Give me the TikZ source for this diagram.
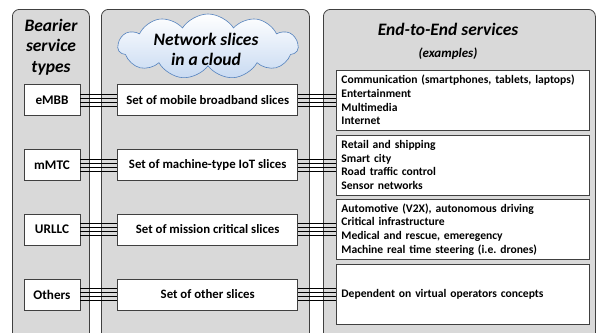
\documentclass[tikz,border=0pt]{standalone}
\usepackage{fontspec}
\setmainfont{Carlito}
\usepackage{tikz}
\usetikzlibrary{positioning,shapes.symbols}
\definecolor{panelgray}{RGB}{217,217,217}
\definecolor{edgegray}{RGB}{64,64,64}
\definecolor{cloudblue}{RGB}{84,130,190}
\definecolor{cloudfill}{RGB}{200,218,242}
\frenchspacing
\tikzset{
	panel/.style={draw=edgegray, fill=panelgray, line width=0.8pt, rounded corners=7pt, anchor=north west, inner sep=0pt},
	typebox/.style={draw=edgegray, fill=white, line width=0.7pt, minimum width=56pt, minimum height=31pt, inner sep=0pt, font=\bfseries\fontsize{13.2}{15}\selectfont},
	slicebox/.style={typebox, minimum width=180pt, font=\bfseries\fontsize{12.8}{15}\selectfont},
	usebox/.style={draw=edgegray, fill=white, line width=0.7pt, minimum width=253pt, minimum height=60pt, inner sep=0pt, text width=243pt, align=left, font=\bfseries\fontsize{11.6}{13.8}\selectfont},
	heading/.style={font=\bfseries\itshape\fontsize{17.5}{20.5}\selectfont, align=center},
	wire/.style={line width=0.6pt, black}
}
\begin{document}
\begin{tikzpicture}[x=1pt,y=-1pt]
		\useasboundingbox (0,0) rectangle (596,332);
		\clip (0,0) rectangle (596,332);
		\node[panel, minimum width=77pt, minimum height=340pt] (typecol) at (12,9) {};
		\node[panel, minimum width=208pt, minimum height=340pt] (slicecol) at (101,9) {};
		\node[panel, minimum width=272pt, minimum height=340pt] (usecol) at (323,9) {};
		\node[heading] (typetitle) at (51,47) {Bearier\\service\\types};
		\node[cloud, cloud puffs=11, cloud puff arc=115, aspect=2.9, draw=cloudblue, line width=0.6pt, top color=white, bottom color=cloudfill, minimum width=180pt, minimum height=65pt] (cloud) at (208,46.5) {};
		\node[heading] (cloudtitle) at (206,49.5) {Network slices\\in a cloud};
		\node[heading] (usetitle) at (448,29) {End-to-End services};
		\node[font=\bfseries\itshape\fontsize{13}{15}\selectfont] (usesub) [below=6pt of usetitle] {(examples)};
		\node[typebox] (embb) at (52,100) {eMBB};
		\node[slicebox] (sbb) [right=37pt of embb] {Set of mobile broadband slices};
		\node[usebox] (ebb) [right=38pt of sbb] {Communication (smartphones, tablets, laptops)\\Entertainment\\Multimedia\\Internet};
		\node[typebox] (mmtc) at (52,165) {mMTC};
		\node[slicebox] (siot) [right=37pt of mmtc] {Set of machine-type IoT slices};
		\node[usebox] (eiot) [right=38pt of siot] {Retail and shipping\\Smart city\\Road traffic control\\Sensor networks};
		\node[typebox] (urllc) at (52,229.5) {URLLC};
		\node[slicebox] (scrit) [right=37pt of urllc] {Set of mission critical slices};
		\node[usebox] (ecrit) [right=38pt of scrit] {Automotive (V2X), autonomous driving\\Critical infrastructure\\Medical and rescue, emeregency\\Machine real time steering (i.e. drones)};
		\node[typebox] (others) at (52,294.5) {Others};
		\node[slicebox] (soth) [right=37pt of others] {Set of other slices};
		\node[usebox] (eoth) [right=38pt of soth] {Dependent on virtual operators concepts};
		\foreach \a/\b in {embb/sbb,sbb/ebb,mmtc/siot,siot/eiot,urllc/scrit,scrit/ecrit,others/soth,soth/eoth}
			\foreach \o in {-6,-2,2,6}
				\draw[wire] ([yshift=\o pt]\a.east) -- ([yshift=\o pt]\b.west);
\end{tikzpicture}
\end{document}
